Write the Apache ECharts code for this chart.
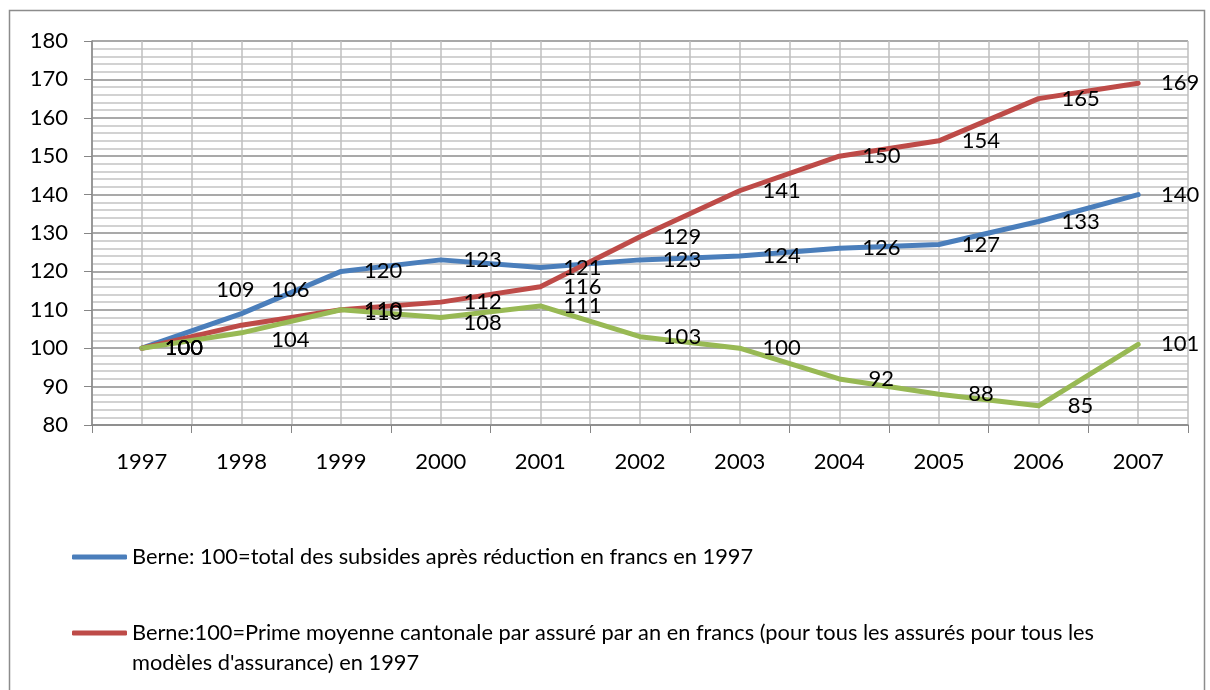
<!DOCTYPE html>
<html>
<head>
<meta charset="utf-8">
<script src="https://cdn.jsdelivr.net/npm/echarts@6/dist/echarts.min.js"></script>
<style>
  html, body { margin: 0; padding: 0; background: #fff; }
  #chart { width: 1210px; height: 690px; }
</style>
</head>
<body>
<div id="chart"></div>
<script>
// années
const years = ['1997', '1998', '1999', '2000', '2001', '2002', '2003', '2004', '2005', '2006', '2007']

// indices (1997 = 100)
const subsides = [100, 109, 120, 123, 121, 123, 124, 126, 127, 133, 140]
const primes = [100, 106, 110, 112, 116, 129, 141, 150, 154, 165, 169]
const troisieme = [100, 104, 110, 108, 111, 103, 100, 92, 88, 85, 101]

const nameSubsides = 'Berne: 100=total des subsides après réduction en francs en 1997'
const namePrimes = 'Berne:100=Prime moyenne cantonale par assuré par an en francs (pour tous les assurés pour tous les modèles d\'assurance) en 1997'
const nameTroisieme = 'Berne: 100=subsides par bénéficiaire en 1997'

const FONT = 'Lato'

// quelques étiquettes déplacées à la main comme dans l'original
const labelShift = {
  subsides: { 1: [-6, -24] },
  primes: { 1: [49, -35] },
  troisieme: { 1: [49, 7], 2: [42, 3], 3: [42, 5] }
}

function withLabels (values, key) {
  return values.map((v, i) => {
    const off = labelShift[key][i]
    return off ? { value: v, label: { offset: off } } : v
  })
}

function lineSerie (name, values, key, color) {
  return {
    name: name,
    type: 'line',
    data: withLabels(values, key),
    xAxisIndex: 0,
    symbol: 'circle',
    symbolSize: 1,
    itemStyle: { color: color },
    lineStyle: { width: 5, color: color, cap: 'round', join: 'round' },
    label: {
      show: true,
      position: 'inside',
      offset: [42, 0],
      color: '#000',
      fontFamily: FONT,
      fontSize: 22
    }
  }
}

const legendText = { color: '#000', fontFamily: FONT, fontSize: 21.8, lineHeight: 30 }

const chart = echarts.init(document.getElementById('chart'))
chart.setOption({
  animation: false,
  backgroundColor: '#fff',
  graphic: [{
    type: 'rect',
    shape: { x: 9.5, y: 10.5, width: 1195, height: 720 },
    style: { fill: 'none', stroke: '#8c8c8c', lineWidth: 1.5 },
    silent: true,
    z: -10
  }],
  grid: { left: 92, right: 22, top: 41, bottom: 265 },
  legend: [
    {
      data: [nameSubsides],
      left: 72,
      top: 542,
      padding: 0,
      icon: 'roundRect',
      itemWidth: 55,
      itemHeight: 5,
      textStyle: legendText
    },
    {
      data: [namePrimes],
      left: 72,
      top: 588,
      padding: 0,
      icon: 'roundRect',
      itemWidth: 55,
      itemHeight: 5,
      // ligne vide en tête : la première ligne du texte reste alignée sur le trait
      formatter: n => '\n' + n.replace(' modèles', '\nmodèles'),
      textStyle: legendText
    }
  ],
  xAxis: [
    {
      type: 'category',
      data: years,
      boundaryGap: true,
      axisLine: { lineStyle: { color: '#868686', width: 1.5 } },
      axisTick: { show: true, length: 8, lineStyle: { color: '#868686' } },
      axisLabel: { color: '#000', fontFamily: FONT, fontSize: 22, margin: 26 },
      splitLine: { show: false }
    },
    {
      // lignes verticales du quadrillage (bords et milieux des catégories)
      type: 'value',
      min: 0,
      max: 22,
      interval: 1,
      position: 'bottom',
      axisLine: { show: false },
      axisTick: { show: false },
      axisLabel: { show: false },
      splitLine: { show: true, lineStyle: { color: '#bfbfbf', width: 1.5 } }
    }
  ],
  yAxis: {
    type: 'value',
    min: 80,
    max: 180,
    interval: 10,
    axisLine: { show: true, lineStyle: { color: '#868686', width: 1.5 } },
    axisTick: { show: true, length: 8, lineStyle: { color: '#868686' } },
    axisLabel: { color: '#000', fontFamily: FONT, fontSize: 22, margin: 24 },
    splitLine: { show: true, lineStyle: { color: '#8c8c8c', width: 1.5 } },
    minorTick: { show: false, splitNumber: 5 },
    minorSplitLine: { show: true, lineStyle: { color: '#c4c4c4', width: 1.5 } }
  },
  series: [
    lineSerie(nameSubsides, subsides, 'subsides', '#4a7ebb'),
    lineSerie(namePrimes, primes, 'primes', '#be4b48'),
    lineSerie(nameTroisieme, troisieme, 'troisieme', '#98b954')
  ]
})
</script>
</body>
</html>
